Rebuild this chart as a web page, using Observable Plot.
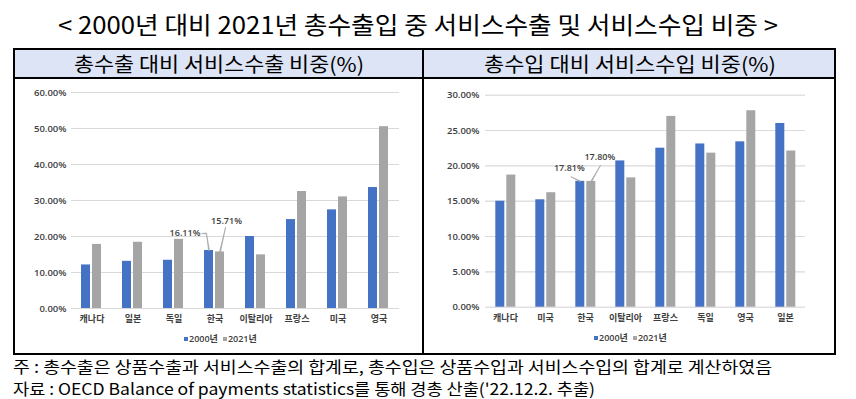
<!DOCTYPE html>
<html><head><meta charset="utf-8">
<script src="https://cdn.jsdelivr.net/npm/d3@7"></script>
<script src="https://cdn.jsdelivr.net/npm/@observablehq/plot@0.6"></script>
<style>
html,body{margin:0;padding:0;background:#fff;}
body{width:856px;height:399px;position:relative;overflow:hidden;font-family:"Noto Sans CJK KR","Noto Sans",sans-serif;color:#000;}
.abs{position:absolute;}
.fit{white-space:nowrap;display:inline-block;transform-origin:left center;}
.legend{position:absolute;font-family:"Open Sans","Noto Sans CJK KR",sans-serif;font-size:9px;font-weight:600;color:#404040;white-space:nowrap;display:flex;align-items:center;}
.legend i{display:inline-block;width:4px;height:4px;margin-right:1px;}
.legend span{margin-right:5px;}
svg text{font-weight:600;}
svg g[aria-label="y-axis tick label"] text{font-size:9.5px;}
</style></head>
<body>
<div id="title" class="abs fit" style="left:58px;top:10px;font-size:24px;line-height:28px;">&lt; 2000년 대비 2021년 총수출입 중 서비스수출 및 서비스수입 비중 &gt;</div>
<div class="abs" style="left:13px;top:48px;width:823px;height:307px;border:2px solid #000;box-sizing:border-box;"></div>
<div class="abs" style="left:15px;top:50px;width:819px;height:27px;background:#dce4f5;"></div>
<div class="abs" style="left:13px;top:77px;width:823px;height:2px;background:#000;"></div>
<div class="abs" style="left:422px;top:48px;width:2px;height:307px;background:#000;"></div>
<div id="h1" class="abs fit" style="left:74px;top:51px;font-size:20px;line-height:26px;">총수출 대비 서비스수출 비중(%)</div>
<div id="h2" class="abs fit" style="left:484px;top:51px;font-size:20px;line-height:26px;">총수입 대비 서비스수입 비중(%)</div>
<div id="c1" class="abs" style="left:15px;top:80px;"></div>
<div id="c2" class="abs" style="left:425px;top:80px;"></div>
<div id="l1" class="legend" style="left:184px;top:332px;"></div>
<div id="l2" class="legend" style="left:594px;top:331px;"></div>
<div id="f1" class="abs fit" style="left:13px;top:355px;font-size:16px;line-height:22px;">주 : 총수출은 상품수출과 서비스수출의 합계로, 총수입은 상품수입과 서비스수입의 합계로 계산하였음</div>
<div id="f2" class="abs fit" style="left:13px;top:377px;font-size:16px;line-height:22px;">자료 : OECD Balance of payments statistics를 통해 경총 산출('22.12.2. 추출)</div>
<script>
// ---- data ----
const seriesNames = ["2000년", "2021년"];
const seriesColors = ["#4472C4", "#A5A5A5"];

const exportCountries = ["캐나다", "일본", "독일", "한국", "이탈리아", "프랑스", "미국", "영국"];
const export2000 = [12.1, 13.1, 13.4, 16.11, 20.0, 24.7, 27.4, 33.6];
const export2021 = [17.8, 18.4, 19.2, 15.71, 14.9, 32.5, 31.0, 50.5];
const exportTicks = [0, 10, 20, 30, 40, 50, 60];

const importCountries = ["캐나다", "미국", "한국", "이탈리아", "프랑스", "독일", "영국", "일본"];
const import2000 = [15.0, 15.2, 17.81, 20.7, 22.5, 23.1, 23.4, 26.0];
const import2021 = [18.7, 16.2, 17.80, 18.3, 27.0, 21.8, 27.8, 22.1];
const importTicks = [0, 5, 10, 15, 20, 25, 30];

function rows(countries, a, b) {
  const out = [];
  countries.forEach((c, i) => {
    out.push({country: c, series: seriesNames[0], value: a[i]});
    out.push({country: c, series: seriesNames[1], value: b[i]});
  });
  return out;
}
const fmt = d => d.toFixed(2) + "%";
const font = `"Open Sans","Noto Sans CJK KR",sans-serif`;

function chart(opts) {
  const data = rows(opts.countries, opts.a, opts.b);
  const kr = opts.countries.indexOf("한국");
  const k0 = data[kr * 2], k1 = data[kr * 2 + 1];
  const lab = {fontSize: 9, fontWeight: 600, fill: "#404040", fontFamily: font};
  const lead = {stroke: "#a6a6a6", fill: "#a6a6a6", shape: "spike", r: 0.5, anchor: "start", strokeWidth: 0.6};
  return Plot.plot({
    width: opts.width, height: 250,
    marginTop: opts.mt, marginBottom: 250 - opts.pb, marginLeft: opts.ml, marginRight: opts.mr,
    style: {fontFamily: font, fontSize: "9px", background: "transparent", color: "#404040", overflow: "visible"},
    fx: {domain: opts.countries, padding: 0, axis: "bottom", label: null, tickSize: 0, tickPadding: 7},
    x: {domain: seriesNames, paddingInner: 0.17, paddingOuter: 0.85, axis: null},
    y: {domain: [0, opts.max], ticks: opts.ticks, tickFormat: fmt, tickSize: 0, tickPadding: opts.tp, label: null, grid: true},
    color: {domain: seriesNames, range: seriesColors},
    marks: [
      Plot.ruleY(opts.ticks, {stroke: "#d9d9d9", strokeWidth: 1}),
      Plot.barY(data, {fx: "country", x: "series", y: "value", fill: "series"}),
      ...opts.ann(k0, k1, lab, lead)
    ]
  });
}

document.getElementById("c1").append(chart({
  countries: exportCountries, a: export2000, b: export2021, ticks: exportTicks, max: 60,
  width: 407, mt: 12, pb: 228, ml: 53, mr: 21, tp: 5,
  ann: (k0, k1, lab, lead) => [
    Plot.vector([k0], {fx: "country", x: "series", y: "value", length: 17, rotate: -8.4, ...lead}),
    Plot.vector([k0], {fx: "country", x: "series", y: "value", dx: -2.5, dy: -17, length: 5, rotate: -90, ...lead}),
    Plot.text([k0], {fx: "country", x: "series", y: "value", text: d => d.value.toFixed(2) + "%", dx: -24, dy: -17, ...lab}),
    Plot.vector([k1], {fx: "country", x: "series", y: "value", length: 25.6, rotate: 12.8, ...lead}),
    Plot.text([k1], {fx: "country", x: "series", y: "value", text: d => d.value.toFixed(2) + "%", dx: 6.5, dy: -30.5, ...lab})
  ]
}));

document.getElementById("c2").append(chart({
  countries: importCountries, a: import2000, b: import2021, ticks: importTicks, max: 30,
  width: 409, mt: 14.7, pb: 226.7, ml: 56.7, mr: 25.7, tp: 6,
  ann: (k0, k1, lab, lead) => [
    Plot.vector([k0], {fx: "country", x: "series", y: "value", length: 10.6, rotate: -63.7, ...lead}),
    Plot.text([k0], {fx: "country", x: "series", y: "value", text: d => d.value.toFixed(2) + "%", dx: -11, dy: -13, ...lab}),
    Plot.vector([k1], {fx: "country", x: "series", y: "value", length: 18.8, rotate: 29.7, ...lead}),
    Plot.text([k1], {fx: "country", x: "series", y: "value", text: d => d.value.toFixed(2) + "%", dx: 8.5, dy: -24.7, ...lab})
  ]
}));

for (const id of ["l1", "l2"]) {
  const el = document.getElementById(id);
  seriesNames.forEach((s, i) => {
    const sw = document.createElement("i"); sw.style.background = seriesColors[i];
    const t = document.createElement("span"); t.textContent = s;
    el.append(sw, t);
  });
}

function fit(id, w) {
  const el = document.getElementById(id);
  const r = el.getBoundingClientRect().width;
  el.style.transform = `scaleX(${w / r})`;
}
fit("title", 720);
fit("h1", 290);
fit("h2", 292);
fit("f1", 759);
fit("f2", 582);
</script>
</body></html>
